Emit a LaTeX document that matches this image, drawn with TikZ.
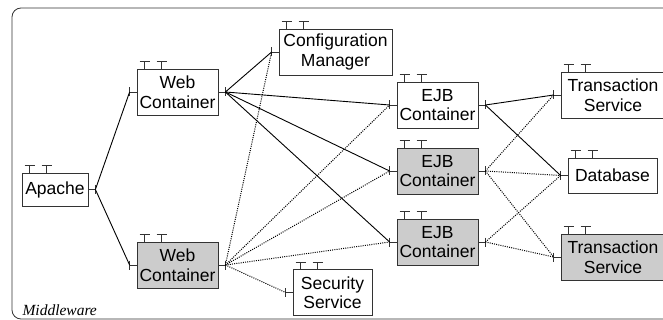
\documentclass[tikz,border=0pt]{standalone}
\usepackage{fontspec}
\setmainfont{Liberation Sans}
\newfontfamily\mwfont{Liberation Serif}
\definecolor{boxgray}{HTML}{CCCCCC}
\definecolor{edgegray}{HTML}{333333}
\tikzset{
  comp/.style={draw=edgegray, line width=0.8pt, rectangle, align=center,
    inner sep=0pt, font=\fontsize{17.5}{19.5}\selectfont, minimum height=46pt},
  shaded/.style={comp, fill=boxgray},
  link/.style={line width=0.9pt},
  dlink/.style={line width=1pt, dash pattern=on 1pt off 1.2pt},
}
\begin{document}
\begin{tikzpicture}[x=1pt,y=-1pt]
  \useasboundingbox (0,0) rectangle (663,320);
  \clip (0,0) rectangle (663,320);
  % 枠
  \draw[edgegray, line width=0.8pt, rounded corners=9pt] (12,8) rectangle (700,319);
  \node[anchor=base west, font=\mwfont\itshape\fontsize{15.5}{17}\selectfont] (mw) at (19,315) {Middleware};

  % 部品
  \node[comp, minimum width=66pt, minimum height=33pt] (apache) at (55,189.5) {Apache};
  \node[comp, minimum width=81pt] (web1) at (177.5,92) {Web\\Container};
  \node[shaded, minimum width=81pt] (web2) at (177.5,265) {Web\\Container};
  \node[comp, minimum width=113pt] (conf) at (335.5,52) {Configuration\\Manager};
  \node[comp, minimum width=81pt] (ejb1) at (437.5,105) {EJB\\Container};
  \node[shaded, minimum width=81pt] (ejb2) at (437.5,171) {EJB\\Container};
  \node[shaded, minimum width=81pt] (ejb3) at (437.5,242) {EJB\\Container};
  \node[comp, minimum width=79pt] (sec) at (332.5,292.5) {Security\\Service};
  \node[comp, minimum width=104pt] (ts1) at (613,95) {Transaction\\Service};
  \node[comp, minimum width=89pt, minimum height=35pt] (db) at (612.5,175.5) {Database};
  \node[shaded, minimum width=104pt] (ts2) at (613,257) {Transaction\\Service};

  % 上のT字
  \foreach \n in {apache,web1,web2,conf,ejb1,ejb2,ejb3,sec,ts1,db,ts2}{
    \draw[edgegray, line width=0.8pt] ([xshift=8pt]\n.north west) -- ++(0,-7) ++(-5,0) -- ++(10,0);
    \draw[edgegray, line width=0.8pt] ([xshift=25pt]\n.north west) -- ++(0,-7) ++(-5,0) -- ++(10,0);
  }

  % ポート
  \foreach \n in {apache,web1,web2,ejb1,ejb2,ejb3}{
    \draw[edgegray, line width=0.8pt] (\n.east) -- ++(7,0) coordinate (\n-r) ++(0,-4.5) -- ++(0,9);
  }
  \foreach \n in {web1,web2,conf,ejb1,ejb2,ejb3,sec,ts1,db,ts2}{
    \draw[edgegray, line width=0.8pt] (\n.west) -- ++(-7,0) coordinate (\n-l) ++(0,-4.5) -- ++(0,9);
  }

  % 実線
  \draw[link] (apache-r) -- (web1-l);
  \draw[link] (apache-r) -- (web2-l);
  \draw[link] (web1-r) -- (conf-l);
  \draw[link] (web1-r) -- (ejb1-l);
  \draw[link] (web1-r) -- (ejb2-l);
  \draw[link] (web1-r) -- (ejb3-l);
  \draw[link] (ejb1-r) -- (ts1-l);
  \draw[link] (ejb1-r) -- (db-l);

  % 点線
  \draw[dlink] (web2-r) -- (conf-l);
  \draw[dlink] (web2-r) -- (ejb1-l);
  \draw[dlink] (web2-r) -- (ejb2-l);
  \draw[dlink] (web2-r) -- (ejb3-l);
  \draw[dlink] (web2-r) -- (sec-l);
  \draw[dlink] (ejb2-r) -- (ts1-l);
  \draw[dlink] (ejb2-r) -- (db-l);
  \draw[dlink] (ejb2-r) -- (ts2-l);
  \draw[dlink] (ejb3-r) -- (db-l);
  \draw[dlink] (ejb3-r) -- (ts2-l);
\end{tikzpicture}
\end{document}
